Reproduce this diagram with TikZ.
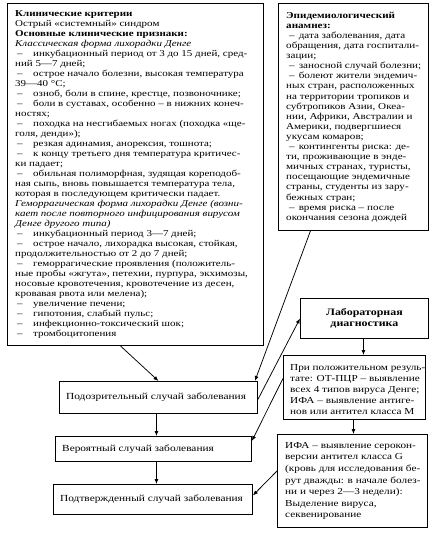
\documentclass[tikz,border=0pt]{standalone}
\usepackage{fontspec}
\setmainfont[FakeStretch=1.22]{Liberation Serif}
\usetikzlibrary{arrows.meta,calc}
\newcommand\dl{\hspace*{2pt}\makebox[16pt][l]{–}}
\newcommand\de{\hspace*{3pt}–\hspace{4pt}}
\begin{document}
\begin{tikzpicture}[x=1pt,y=-1pt,
  box/.style={draw, line width=0.9pt, inner sep=0pt, anchor=north west},
  txt/.style={anchor=west, align=left, inner sep=0pt},
  arr/.style={-{Latex[length=5pt,width=4pt]}, line width=0.75pt}]
\useasboundingbox (0,0) rectangle (436,533);
% boxes
\node[box, minimum width=256pt, minimum height=342pt] (clin) at (7,3) {};
\node[box, minimum width=150pt, minimum height=227pt] (epid) at (278,3) {};
\node[box, minimum width=128pt, minimum height=40pt] (lab) at (300,298) {};
\node[box, minimum width=142pt, minimum height=64pt] (pos) at (283,355) {};
\node[box, minimum width=150pt, minimum height=93pt] (ifag) at (277,434) {};
\node[box, minimum width=198pt, minimum height=32pt] (susp) at (59,381) {};
\node[box, minimum width=196pt, minimum height=25pt] (prob) at (55,436) {};
\node[box, minimum width=199pt, minimum height=30pt] (conf) at (53,484) {};
% texts
\node[txt, font=\fontsize{9}{10}\selectfont] (clint) at ([xshift=8pt]clin.west) {%
\textbf{Клинические критерии}\\
Острый «системный» синдром\\
\textbf{Основные клинические признаки:}\\
\textit{Классическая форма лихорадки Денге}\\
\dl инкубационный период от 3 до 15 дней, сред-\\
ний 5—7 дней;\\
\dl острое начало болезни, высокая температура\\
39—40 °С;\\
\dl озноб, боли в спине, крестце, позвоночнике;\\
\dl боли в суставах, особенно – в нижних конеч-\\
ностях;\\
\dl походка на несгибаемых ногах (походка «ще-\\
голя, денди»);\\
\dl резкая адинамия, анорексия, тошнота;\\
\dl к концу третьего дня температура критичес-\\
ки падает;\\
\dl обильная полиморфная, зудящая кореподоб-\\
ная сыпь, вновь повышается температура тела,\\
которая в последующем критически падает.\\
\textit{Геморрагическая форма лихорадки Денге (возни-}\\
\textit{кает после повторного инфицирования вирусом}\\
\textit{Денге другого типа)}\\
\dl инкубационный период 3—7 дней;\\
\dl острое начало, лихорадка высокая, стойкая,\\
продолжительностью от 2 до 7 дней;\\
\dl геморрагические проявления (положитель-\\
ные пробы «жгута», петехии, пурпура, экхимозы,\\
носовые кровотечения, кровотечение из десен,\\
кровавая рвота или мелена);\\
\dl увеличение печени;\\
\dl гипотония, слабый пульс;\\
\dl инфекционно-токсический шок;\\
\dl тромбоцитопения};
\node[txt, font=\fontsize{9.1}{10.1}\selectfont] (epidt) at ([xshift=8pt,yshift=0pt]epid.west) {%
\textbf{Эпидемиологический}\\
\textbf{анамнез:}\\
\de дата заболевания, дата\\
обращения, дата госпитали-\\
зации;\\
\de заносной случай болезни;\\
\de болеют жители эндемич-\\
ных стран, расположенных\\
на территории тропиков и\\
субтропиков Азии, Океа-\\
нии, Африки, Австралии и\\
Америки, подвергшиеся\\
укусам комаров;\\
\de контингенты риска: де-\\
ти, проживающие в энде-\\
мичных странах, туристы,\\
посещающие эндемичные\\
страны, студенты из зару-\\
бежных стран;\\
\de время риска – после\\
окончания сезона дождей};
\node[align=center, inner sep=0pt, font=\fontsize{9.8}{11}\selectfont\bfseries] (labt) at (lab.center) {Лабораторная\\диагностика};
\node[txt, font=\fontsize{9.2}{11}\selectfont] (post) at ([xshift=7pt,yshift=-2pt]pos.west) {%
При положительном резуль-\\
тате: ОТ-ПЦР – выявление\\
всех 4 типов вируса Денге;\\
ИФА – выявление антиге-\\
нов или антител класса М};
\node[txt, font=\fontsize{9.2}{11.6}\selectfont] (ifagt) at ([xshift=8pt]ifag.west) {%
ИФА – выявление серокон-\\
версии антител класса G\\
(кровь для исследования бе-\\
рут дважды: в начале болез-\\
ни и через 2—3 недели):\\
Выделение вируса,\\
секвенирование};
\node[txt, font=\fontsize{9.3}{11}\selectfont] (suspt) at ([xshift=7pt]susp.west) {Подозрительный случай заболевания};
\node[txt, font=\fontsize{9.3}{11}\selectfont] (probt) at ([xshift=7pt]prob.west) {Вероятный случай заболевания};
\node[txt, font=\fontsize{9.3}{11}\selectfont] (conft) at ([xshift=7pt]conf.west) {Подтвержденный случай заболевания};
% arrows
\draw[arr] ([xshift=-15pt]clin.south) -- (susp.north);
\draw[arr] ([xshift=-43pt]epid.south) -- ([xshift=-3pt]susp.north east);
\draw[arr] ([yshift=-2pt]susp.east) -- (lab.west);
\draw[arr] ([yshift=9pt]pos.west) -- ([yshift=8pt]prob.east);
\draw[arr] ([yshift=10pt]ifag.west) -- ([yshift=4pt]conf.east);
\draw[arr] ([xshift=-1pt]lab.south) -- ([xshift=-1pt]lab.south |- pos.north);
\draw[arr] ([xshift=-1pt]pos.south) -- ([xshift=-1pt]pos.south |- ifag.north);
\draw[arr] ([xshift=-2pt]susp.south) -- ([xshift=-2pt]susp.south |- prob.north);
\draw[arr] ([xshift=-2pt]susp.south |- prob.south) -- ([xshift=-2pt]susp.south |- conf.north);
\end{tikzpicture}
\end{document}
